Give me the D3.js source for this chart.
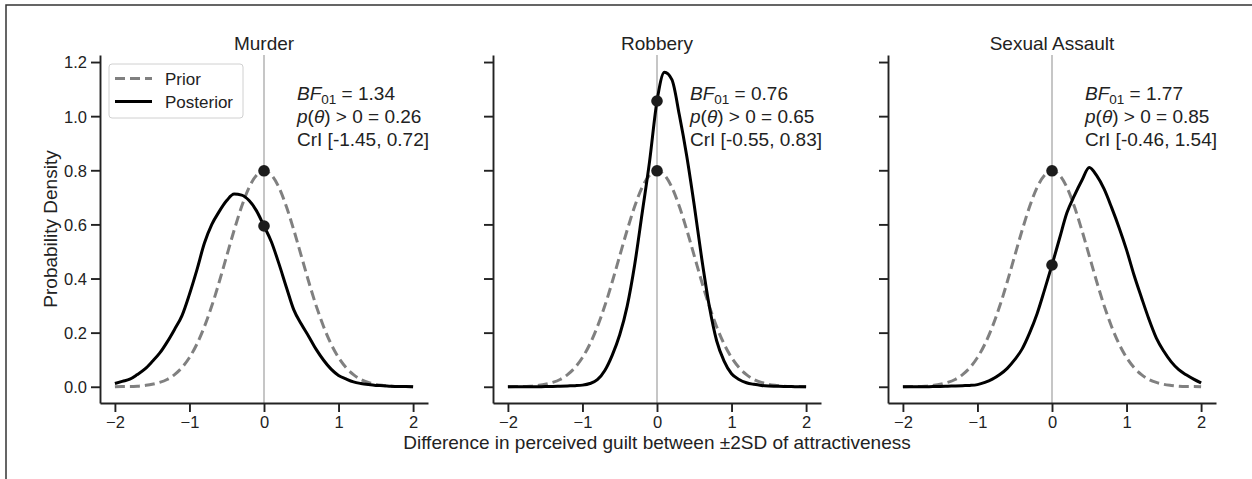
<!DOCTYPE html>
<html>
<head>
<meta charset="utf-8">
<script src="https://cdn.jsdelivr.net/npm/d3@7"></script>
<style>
  body { margin: 0; background: #fff; }
  svg text { font-family: "Liberation Sans", Arial, Helvetica, sans-serif; fill: #222; }
  .axis path, .axis line { stroke: #222; }
</style>
</head>
<body>
<svg width="1252" height="479"></svg>
<script>
// values, one point every 0.1 on the x axis
var grid = [-2.0, -1.9, -1.8, -1.7, -1.6, -1.5, -1.4, -1.3, -1.2, -1.1, -1.0,
            -0.9, -0.8, -0.7, -0.6, -0.5, -0.4, -0.3, -0.2, -0.1, 0.0,
            0.1, 0.2, 0.3, 0.4, 0.5, 0.6, 0.7, 0.8, 0.9, 1.0,
            1.1, 1.2, 1.3, 1.4, 1.5, 1.6, 1.7, 1.8, 1.9, 2.0];

var priorDensity = [0.000, 0.001, 0.001, 0.002, 0.005, 0.009, 0.016, 0.027, 0.045, 0.071, 0.108,
                    0.158, 0.222, 0.299, 0.388, 0.484, 0.579, 0.666, 0.737, 0.782, 0.798,
                    0.782, 0.737, 0.666, 0.579, 0.484, 0.388, 0.299, 0.222, 0.158, 0.108,
                    0.071, 0.045, 0.027, 0.016, 0.009, 0.005, 0.002, 0.001, 0.001, 0.000];

var murderPosterior = [0.012, 0.020, 0.028, 0.045, 0.065, 0.093, 0.124, 0.165, 0.212, 0.263, 0.342,
                       0.432, 0.530, 0.600, 0.648, 0.688, 0.712, 0.708, 0.688, 0.650, 0.594,
                       0.535, 0.455, 0.368, 0.284, 0.232, 0.186, 0.138, 0.098, 0.065, 0.042,
                       0.029, 0.018, 0.012, 0.008, 0.005, 0.004, 0.002, 0.001, 0.001, 0.000];

var robberyPosterior = [0.000, 0.000, 0.000, 0.000, 0.000, 0.001, 0.001, 0.002, 0.003, 0.004, 0.006,
                        0.012, 0.026, 0.060, 0.117, 0.192, 0.298, 0.450, 0.640, 0.832, 1.056,
                        1.162, 1.135, 1.004, 0.851, 0.670, 0.474, 0.300, 0.170, 0.095, 0.048,
                        0.027, 0.015, 0.009, 0.005, 0.003, 0.002, 0.001, 0.001, 0.000, 0.000];

var assaultPosterior = [0.000, 0.000, 0.000, 0.000, 0.001, 0.001, 0.002, 0.003, 0.004, 0.005, 0.008,
                        0.016, 0.028, 0.045, 0.068, 0.100, 0.140, 0.199, 0.270, 0.358, 0.450,
                        0.547, 0.643, 0.706, 0.762, 0.810, 0.780, 0.730, 0.662, 0.588, 0.506,
                        0.413, 0.330, 0.250, 0.180, 0.131, 0.092, 0.063, 0.044, 0.028, 0.014];

var titles = ["Murder", "Robbery", "Sexual Assault"];
var posteriors = [murderPosterior, robberyPosterior, assaultPosterior];
var bayesFactors = ["1.34", "0.76", "1.77"];
var pPositive = ["0.26", "0.65", "0.85"];
var credibleIntervals = ["[-1.45, 0.72]", "[-0.55, 0.83]", "[-0.46, 1.54]"];
var xTicks = [-2, -1, 0, 1, 2];
var yTicks = [0, 0.2, 0.4, 0.6, 0.8, 1.0, 1.2];

var svg = d3.select("svg");

// outer frame (top and left edges only)
svg.append("path")
  .attr("d", "M6,479V5H1252")
  .attr("fill", "none")
  .attr("stroke", "#333")
  .attr("stroke-width", 1.5);

var panelLeft = [100, 493, 888],
    panelWidth = 328,
    plotTop = 55,
    plotBottom = 403;

var y = d3.scaleLinear().domain([-0.06, 1.226]).range([plotBottom, plotTop]);

function pts(vals) {
  return grid.map(function(g, i) { return [g, vals[i]]; });
}

titles.forEach(function(title, p) {
  var left = panelLeft[p];
  var x = d3.scaleLinear().domain([-2.2, 2.2]).range([left, left + panelWidth]);
  var g = svg.append("g");

  var line = d3.line()
    .x(function(d) { return x(d[0]); })
    .y(function(d) { return y(d[1]); })
    .curve(d3.curveMonotoneX);

  // zero reference line
  g.append("line")
    .attr("x1", x(0)).attr("x2", x(0))
    .attr("y1", plotTop).attr("y2", plotBottom)
    .attr("stroke", "#c6c6c6")
    .attr("stroke-width", 2);

  // axes
  g.append("g")
    .attr("class", "axis")
    .attr("transform", "translate(0," + plotBottom + ")")
    .call(d3.axisBottom(x).tickValues(xTicks).tickSize(9).tickSizeOuter(0).tickPadding(4)
      .tickFormat(d3.format("d")))
    .call(function(a) {
      a.selectAll("path, line").attr("stroke-width", 1.9);
      a.selectAll("text").style("font-size", "16.5px").attr("fill", "#222")
        .style("font-family", "'Liberation Sans', Arial, sans-serif");
    });

  var yAxis = d3.axisLeft(y).tickValues(yTicks).tickSize(9).tickSizeOuter(0).tickPadding(4)
    .tickFormat(p === 0 ? d3.format(".1f") : "");
  g.append("g")
    .attr("class", "axis")
    .attr("transform", "translate(" + left + ",0)")
    .call(yAxis)
    .call(function(a) {
      a.selectAll("path, line").attr("stroke-width", 1.9);
      a.selectAll("text").style("font-size", "16.5px").attr("fill", "#222")
        .attr("dy", "0.36em")
        .style("font-family", "'Liberation Sans', Arial, sans-serif");
    });

  // curves
  g.append("path")
    .attr("d", line(pts(priorDensity)))
    .attr("fill", "none")
    .attr("stroke", "#808080")
    .attr("stroke-width", 3)
    .attr("stroke-dasharray", "10,5");

  g.append("path")
    .attr("d", line(pts(posteriors[p])))
    .attr("fill", "none")
    .attr("stroke", "#000")
    .attr("stroke-width", 3)
    .attr("stroke-linejoin", "round");

  // density at zero, prior and posterior
  var zi = grid.indexOf(0);
  g.selectAll("circle.zero")
    .data([priorDensity[zi], posteriors[p][zi]])
    .enter().append("circle")
    .attr("class", "zero")
    .attr("cx", x(0))
    .attr("cy", function(d) { return y(d); })
    .attr("r", 5.8)
    .attr("fill", "#1c1c1c");

  // title
  g.append("text")
    .attr("x", left + panelWidth / 2)
    .attr("y", 50)
    .attr("text-anchor", "middle")
    .style("font-size", "19px")
    .text(title);

  // stats annotation
  var ax = left + 197;
  var t1 = g.append("text").attr("x", ax).attr("y", 100).style("font-size", "19px");
  t1.append("tspan").style("font-style", "italic").text("BF");
  t1.append("tspan").attr("dy", 4).style("font-size", "13.5px").text("01");
  t1.append("tspan").attr("dy", -4).text(" = " + bayesFactors[p]);

  var t2 = g.append("text").attr("x", ax).attr("y", 123).style("font-size", "19px");
  t2.append("tspan").style("font-style", "italic").text("p");
  t2.append("tspan").text("(");
  t2.append("tspan").style("font-style", "italic").text("θ");
  t2.append("tspan").text(") > 0 = " + pPositive[p]);

  g.append("text").attr("x", ax).attr("y", 146).style("font-size", "19px")
    .text("CrI " + credibleIntervals[p]);
});

// legend
var legend = svg.append("g");
legend.append("rect")
  .attr("x", 109).attr("y", 64)
  .attr("width", 134).attr("height", 54)
  .attr("rx", 3)
  .attr("fill", "#fff")
  .attr("fill-opacity", 0.8)
  .attr("stroke", "#d0d0d0")
  .attr("stroke-width", 1);

[["Prior", "#808080", "10,5", 78.5], ["Posterior", "#000", null, 101.5]].forEach(function(item) {
  legend.append("line")
    .attr("x1", 115).attr("x2", 152)
    .attr("y1", item[3]).attr("y2", item[3])
    .attr("stroke", item[1])
    .attr("stroke-width", 3)
    .attr("stroke-dasharray", item[2]);
  legend.append("text")
    .attr("x", 165).attr("y", item[3] + 6)
    .style("font-size", "17px")
    .text(item[0]);
});

// shared axis labels
svg.append("text")
  .attr("x", 657)
  .attr("y", 449)
  .attr("text-anchor", "middle")
  .style("font-size", "19px")
  .text("Difference in perceived guilt between ±2SD of attractiveness");

svg.append("text")
  .attr("transform", "translate(57,229) rotate(-90)")
  .attr("text-anchor", "middle")
  .style("font-size", "19px")
  .text("Probability Density");
</script>
</body>
</html>
